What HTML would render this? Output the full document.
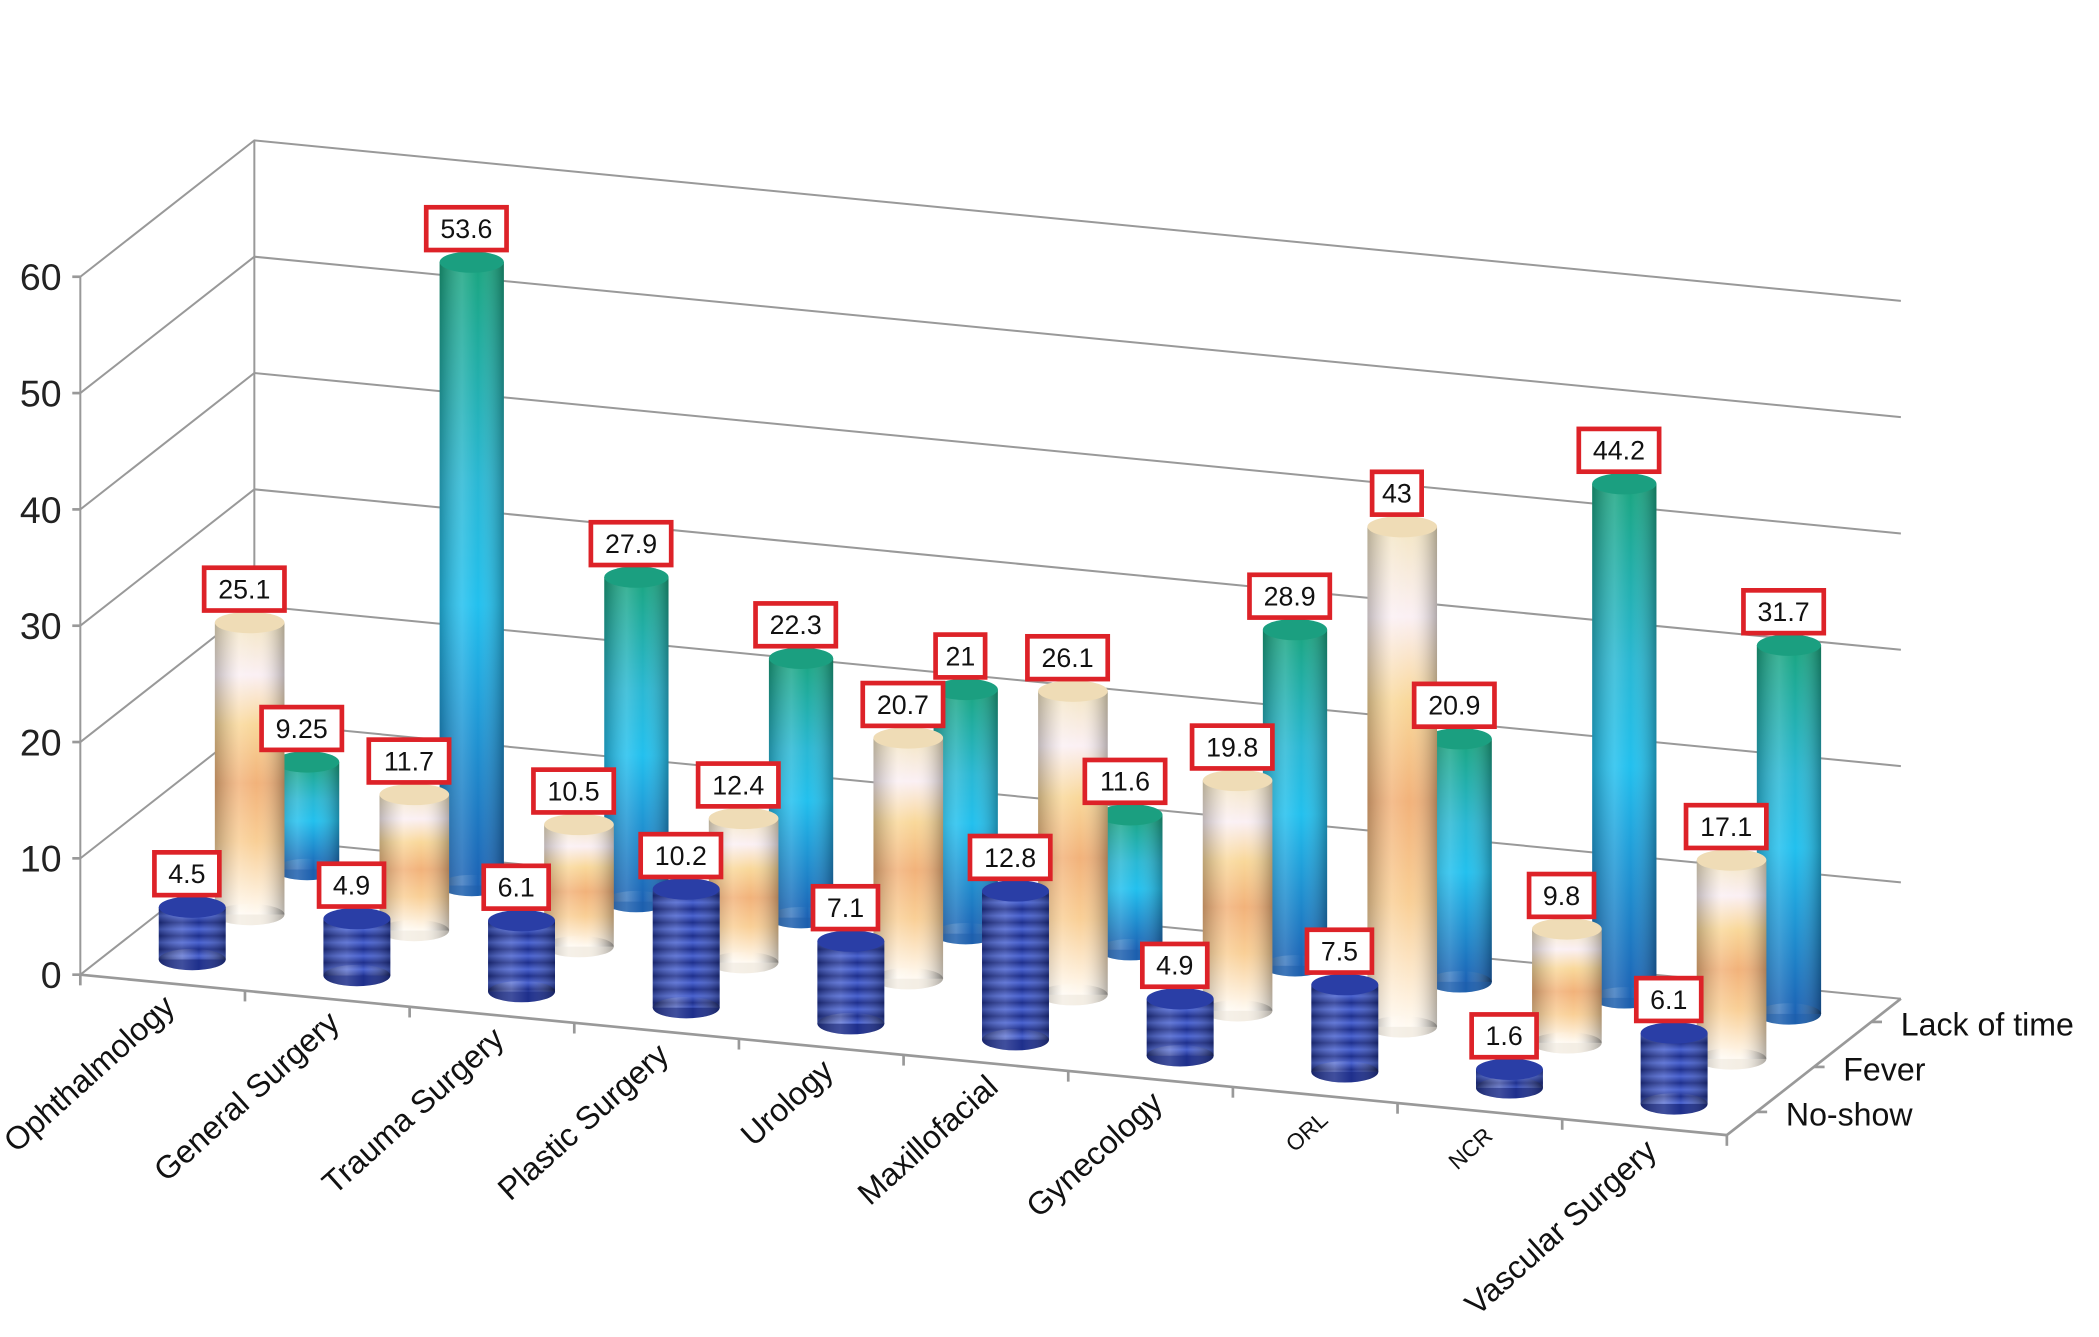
<!DOCTYPE html>
<html><head><meta charset="utf-8"><style>
html,body{margin:0;padding:0;background:#fff;}
svg{display:block;font-family:"Liberation Sans",Arial,sans-serif;}
</style></head><body>
<svg id="chart" width="2099" height="1337" viewBox="0 0 1568 1000" preserveAspectRatio="none" xmlns="http://www.w3.org/2000/svg">
<defs>
<linearGradient id="gLack" x1="0" y1="0" x2="0" y2="1">
<stop offset="0" stop-color="#1aa57f"/><stop offset="0.35" stop-color="#2ab8d4"/><stop offset="0.55" stop-color="#22c0ee"/><stop offset="1" stop-color="#1c62b4"/></linearGradient>
<linearGradient id="gFever" x1="0" y1="0" x2="0" y2="1">
<stop offset="0" stop-color="#f4e6c4"/><stop offset="0.18" stop-color="#fbf0f4"/><stop offset="0.35" stop-color="#f9d89a"/><stop offset="0.55" stop-color="#f2b27a"/><stop offset="0.75" stop-color="#f9cf96"/><stop offset="1" stop-color="#fffaf2"/></linearGradient>
<linearGradient id="gNo" gradientUnits="userSpaceOnUse" x1="0" y1="0" x2="0" y2="10" spreadMethod="repeat">
<stop offset="0" stop-color="#1e2f8c"/><stop offset="0.5" stop-color="#4a63d0"/><stop offset="1" stop-color="#1e2f8c"/></linearGradient>
<linearGradient id="gShade" x1="0" y1="0" x2="1" y2="0">
<stop offset="0" stop-color="#000" stop-opacity="0.25"/><stop offset="0.35" stop-color="#fff" stop-opacity="0.15"/><stop offset="0.6" stop-color="#fff" stop-opacity="0"/><stop offset="1" stop-color="#000" stop-opacity="0.3"/></linearGradient>
</defs>
<g id="axes"></g>
<g id="bars"></g>
<g id="labels"></g>
</svg>
<script>
const categories = ["Ophthalmology","General Surgery","Trauma Surgery","Plastic Surgery","Urology","Maxillofacial","Gynecology","ORL","NCR","Vascular Surgery"];
const seriesNames = ["No-show","Fever","Lack of time"];
const noShow = [4.5,4.9,6.1,10.2,7.1,12.8,4.9,7.5,1.6,6.1];
const fever = [25.1,11.7,10.5,12.4,20.7,26.1,19.8,43,9.8,17.1];
const lackOfTime = [9.25,53.6,27.9,22.3,21,11.6,28.9,20.9,44.2,31.7];
const noShowLabels = ["4.5","4.9","6.1","10.2","7.1","12.8","4.9","7.5","1.6","6.1"];
const feverLabels = ["25.1","11.7","10.5","12.4","20.7","26.1","19.8","43","9.8","17.1"];
const lackLabels = ["9.25","53.6","27.9","22.3","21","11.6","28.9","20.9","44.2","31.7"];
const yTicks = [0,10,20,30,40,50,60];

const NS="http://www.w3.org/2000/svg";
const O={x:60,y:729}, CAT={x:1230,y:120}, DEP={x:130,y:-102}, VS=8.7;
function P(t,d,v){return {x:O.x+t*CAT.x+d*DEP.x, y:O.y+t*CAT.y+d*DEP.y-VS*v};}
function el(tag,attrs,parent,text){const e=document.createElementNS(NS,tag);for(const k in attrs)e.setAttribute(k,attrs[k]);if(text!==undefined)e.textContent=text;parent.appendChild(e);return e;}
const axes=document.getElementById('axes'), bars=document.getElementById('bars'), labels=document.getElementById('labels');
const gridC="#999";
yTicks.forEach(v=>{
  const a=P(0,0,v),b=P(0,1,v),c=P(1,1,v);
  const g=el('polyline',{points:`${a.x},${a.y} ${b.x},${b.y} ${c.x},${c.y}`,fill:'none',stroke:gridC,'stroke-width':1.5},axes);
  
  
  el('line',{x1:a.x-6,y1:a.y,x2:a.x,y2:a.y,stroke:gridC,'stroke-width':2},axes);
  const t=el('text',{x:a.x-14,y:a.y+10,'text-anchor':'end','font-size':28,fill:'#222'},axes,String(v));
  
  
});
{const a=P(0,0,0),b=P(0,0,60),c=P(0,1,0),d=P(0,1,60);
el('line',{x1:a.x,y1:a.y,x2:b.x,y2:b.y,stroke:gridC,'stroke-width':1.5},axes);
el('line',{x1:c.x,y1:c.y,x2:d.x,y2:d.y,stroke:gridC,'stroke-width':1.5},axes);
const g=P(1,0,0),h=P(1,1,0);
el('line',{x1:a.x,y1:a.y,x2:g.x,y2:g.y,stroke:gridC,'stroke-width':2},axes);
el('line',{x1:g.x,y1:g.y,x2:h.x,y2:h.y,stroke:gridC,'stroke-width':2},axes);}
for(let i=0;i<=categories.length;i++){const p=P(i/10,0,0);el('line',{x1:p.x,y1:p.y,x2:p.x,y2:p.y+8,stroke:gridC,'stroke-width':2},axes);}
categories.forEach((c,i)=>{
  const p=P(i/10,0,0);const small=(c==="ORL"||c==="NCR");
  const t=el('text',{x:p.x+72,y:p.y+26,'text-anchor':'end','font-size':small?17:24,fill:'#111',transform:`rotate(-42 ${p.x+72} ${p.y+26})`},axes,c);
  
  
});
const depths=[0.17,0.5,0.83];
seriesNames.forEach((s,k)=>{
  const p=P(1,depths[k],0);
  el('line',{x1:p.x,y1:p.y,x2:p.x+8,y2:p.y,stroke:gridC,'stroke-width':2},axes);
  const t=el('text',{x:p.x+22,y:p.y+10,'font-size':24,fill:'#111'},axes,s);
  
  
});
const series=[{v:lackOfTime,l:lackLabels,d:depths[2],f:'url(#gLack)',top:'#1b9f80',bot:'#1c5fae',r:24},
 {v:fever,l:feverLabels,d:depths[1],f:'url(#gFever)',top:'#efdcb6',bot:'#f4eee4',r:26},
 {v:noShow,l:noShowLabels,d:depths[0],f:'url(#gNo)',top:'#2a3ea6',bot:'#1e2f8c',r:25}];
const lbls=[];
series.forEach((S,k)=>{
  S.v.forEach((v,i)=>{
    const b=P((i+0.5)/10,S.d,0), t=P((i+0.5)/10,S.d,v);const r=S.r, ry=8;
    const g=el('g',{},bars);
    
    
    el('ellipse',{cx:b.x,cy:b.y,rx:r,ry:ry,fill:S.bot},g);
    el('rect',{x:b.x-r,y:t.y,width:2*r,height:Math.max(b.y-t.y,0.1),fill:S.f},g);
    el('ellipse',{cx:b.x,cy:b.y,rx:r,ry:ry,fill:'url(#gShade)'},g);
    el('rect',{x:b.x-r,y:t.y,width:2*r,height:Math.max(b.y-t.y,0.1),fill:'url(#gShade)'},g);
    el('ellipse',{cx:t.x,cy:t.y,rx:r,ry:ry,fill:S.top},g);
    lbls.push({x:t.x-4,y:t.y-ry-17,s:S.l[i]});
  });
});
lbls.forEach(L=>{
  const w=L.s.length*11.5+14;
  const g=el('g',{},labels);
  
  
  el('rect',{x:L.x-w/2,y:L.y-16,width:w,height:32,fill:'#fff',stroke:'#dd2228','stroke-width':3.5},g);
  el('text',{x:L.x,y:L.y+7,'text-anchor':'middle','font-size':20,fill:'#111'},g,L.s);
});
</script>
</body></html>
